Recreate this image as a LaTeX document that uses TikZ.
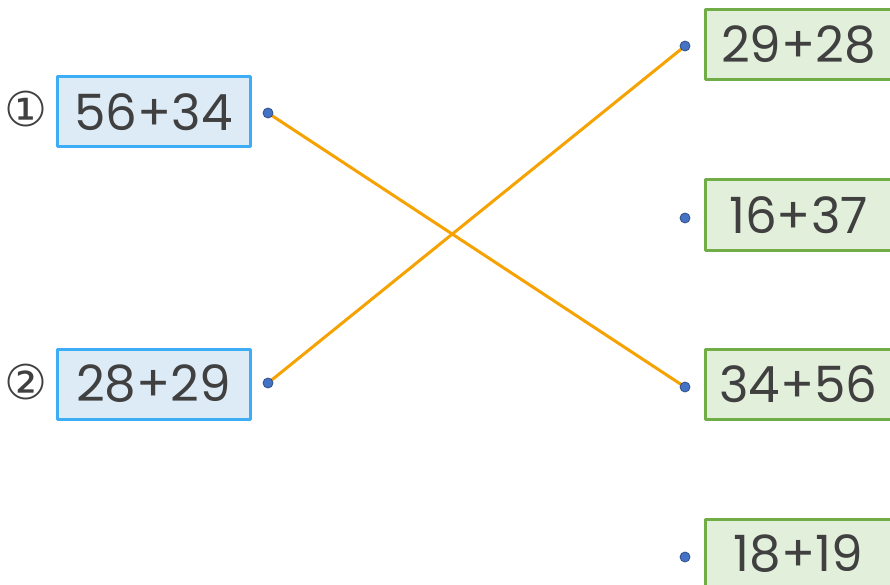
\documentclass[tikz,border=0pt]{standalone}
\usepackage{fontspec}
\setmainfont{Poppins}
\newfontfamily\symfont{DejaVu Sans}
\definecolor{bluefill}{HTML}{DDEBF7}
\definecolor{blueline}{HTML}{3DAEF5}
\definecolor{greenfill}{HTML}{E2EFDA}
\definecolor{greenline}{HTML}{70AD47}
\definecolor{linkline}{HTML}{F5A202}
\definecolor{dotblue}{HTML}{4472C4}
\definecolor{txt}{HTML}{404040}
\begin{document}
\begin{tikzpicture}[x=1pt,y=-1pt,line join=round,line cap=round,
	qbox/.style={draw=blueline,fill=bluefill,line width=3pt,minimum width=193pt,minimum height=70pt,
		inner sep=0pt,text=txt,font=\fontsize{50}{56}\selectfont},
	abox/.style={draw=greenline,fill=greenfill,line width=3pt,minimum width=200pt,minimum height=70pt,
		inner sep=0pt,anchor=west,text=txt,font=\fontsize{50}{56}\selectfont},
	num/.style={text=txt,font=\symfont\fontsize{48}{50}\selectfont},
	link/.style={draw=linkline,line width=3pt},
	dot/.style={fill=dotblue,draw=dotblue!70!black,line width=0.8pt}]
	\useasboundingbox (0,0) rectangle (890,585);
	\clip (0,0) rectangle (890,585);
	% left column
	\node[qbox] (q1) at (153.5,112) {56+34};
	\node[qbox] (q2) at (153.5,384) {28+29};
	\node[num] (n1) at (26,109) {①};
	\node[num] (n2) at (26,382) {②};
	% right column
	\node[abox] (a1) at (704,45) {\hspace*{-14pt}29+28};
	\node[abox] (a2) at (704,215) {\hspace*{-14pt}16+37};
	\node[abox] (a3) at (704,384) {\hspace*{-14pt}34+56};
	\node[abox] (a4) at (704,554) {\hspace*{-14pt}18+19};
	% dots
	\coordinate (p1) at (268,113);
	\coordinate (p2) at (268,383);
	\coordinate (r1) at (685,46);
	\coordinate (r2) at (685,218);
	\coordinate (r3) at (685,387);
	\coordinate (r4) at (685,557);
	\draw[link] (p1) -- (r3);
	\draw[link] (p2) -- (r1);
	\foreach \p in {p1,p2,r1,r2,r3,r4}
		\fill[dot] (\p) circle (5pt);
\end{tikzpicture}
\end{document}
